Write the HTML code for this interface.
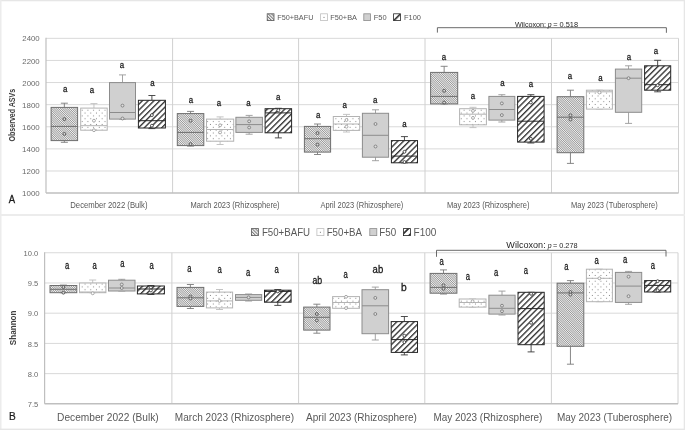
<!DOCTYPE html><html><head><meta charset="utf-8"><style>
html,body{margin:0;padding:0;background:#fff;width:685px;height:430px;overflow:hidden}
svg{display:block;will-change:transform}
text{font-family:"Liberation Sans",sans-serif}
</style></head><body>
<svg width="685" height="430" viewBox="0 0 685 430">
<defs>
<pattern id="pBAFU" patternUnits="userSpaceOnUse" width="1.556" height="4" patternTransform="rotate(-45)"><rect width="1.556" height="4" fill="#f2f2f2"/><rect width="0.68" height="4" fill="#8a8a8a"/></pattern>
<pattern id="pBA" patternUnits="userSpaceOnUse" width="5.7" height="5.7" x="1" y="0.5"><rect width="5.7" height="5.7" fill="#fff"/><rect x="0.9" y="0.9" width="1" height="1" fill="#8c8c8c"/><rect x="3.75" y="3.75" width="1" height="1" fill="#8c8c8c"/></pattern>
<pattern id="pF100" patternUnits="userSpaceOnUse" x="-1.0" width="4.1" height="4.1" patternTransform="rotate(45)"><rect width="4.1" height="4.1" fill="#fff"/><rect width="1.38" height="4.1" fill="#383838"/></pattern>
<pattern id="pF100LA" patternUnits="userSpaceOnUse" x="7.2" width="7.5" height="4" patternTransform="rotate(45)"><rect width="7.5" height="4" fill="#fff"/><rect width="1.6" height="4" fill="#333"/></pattern>
<pattern id="pF100LB" patternUnits="userSpaceOnUse" x="4.4" width="5.3" height="4" patternTransform="rotate(45)"><rect width="5.3" height="4" fill="#fff"/><rect width="1.8" height="4" fill="#333"/></pattern>
<pattern id="pBAFUL" patternUnits="userSpaceOnUse" width="2.3" height="4" patternTransform="rotate(-45)"><rect width="2.3" height="4" fill="#f6f6f6"/><rect width="1.0" height="4" fill="#7a7a7a"/></pattern>
</defs>
<rect x="0" y="0" width="685" height="430" fill="#fff"/>
<rect x="0" y="0" width="685" height="1.3" fill="#e6e6e6"/>
<rect x="0" y="0" width="1.5" height="430" fill="#ececec"/>
<rect x="683.7" y="0" width="1.3" height="430" fill="#e6e6e6"/>
<rect x="0" y="428.6" width="685" height="1.4" fill="#e6e6e6"/>
<rect x="0" y="214" width="685" height="2" fill="#ececec"/>
<line x1="46" y1="170.99" x2="678.5" y2="170.99" stroke="#d9d9d9" stroke-width="1"/>
<line x1="46" y1="148.88" x2="678.5" y2="148.88" stroke="#d9d9d9" stroke-width="1"/>
<line x1="46" y1="126.77" x2="678.5" y2="126.77" stroke="#d9d9d9" stroke-width="1"/>
<line x1="46" y1="104.66" x2="678.5" y2="104.66" stroke="#d9d9d9" stroke-width="1"/>
<line x1="46" y1="82.55" x2="678.5" y2="82.55" stroke="#d9d9d9" stroke-width="1"/>
<line x1="46" y1="60.44" x2="678.5" y2="60.44" stroke="#d9d9d9" stroke-width="1"/>
<line x1="46" y1="38.33" x2="678.5" y2="38.33" stroke="#d9d9d9" stroke-width="1"/>
<line x1="172.6" y1="38.33" x2="172.6" y2="193.1" stroke="#d0d0d0" stroke-width="1"/>
<line x1="298.6" y1="38.33" x2="298.6" y2="193.1" stroke="#d0d0d0" stroke-width="1"/>
<line x1="425" y1="38.33" x2="425" y2="193.1" stroke="#d0d0d0" stroke-width="1"/>
<line x1="551.5" y1="38.33" x2="551.5" y2="193.1" stroke="#d0d0d0" stroke-width="1"/>
<line x1="678.5" y1="38.33" x2="678.5" y2="193.1" stroke="#d0d0d0" stroke-width="1"/>
<line x1="46" y1="37.83" x2="46" y2="193.1" stroke="#bfbfbf" stroke-width="1.2"/>
<line x1="46" y1="193.1" x2="678.5" y2="193.1" stroke="#bfbfbf" stroke-width="1.5"/>
<line x1="64.35" y1="103.2" x2="64.35" y2="107.4" stroke="#7a7a7a" stroke-width="0.9"/>
<line x1="60.85" y1="103.2" x2="67.85" y2="103.2" stroke="#7a7a7a" stroke-width="0.9"/>
<line x1="64.35" y1="140.6" x2="64.35" y2="142.3" stroke="#7a7a7a" stroke-width="0.9"/>
<line x1="60.85" y1="142.3" x2="67.85" y2="142.3" stroke="#7a7a7a" stroke-width="0.9"/>
<rect x="51.1" y="107.4" width="26.5" height="33.2" fill="url(#pBAFU)" stroke="#6e6e6e" stroke-width="1.0"/>
<line x1="51.1" y1="126.4" x2="77.6" y2="126.4" stroke="#6e6e6e" stroke-width="1"/>
<circle cx="64.35" cy="119.1" r="1.45" fill="#d8d8d8" stroke="#4a4a4a" stroke-width="0.85"/>
<circle cx="64.35" cy="133.9" r="1.45" fill="#d8d8d8" stroke="#4a4a4a" stroke-width="0.85"/>
<text transform="translate(62.94,91.95) scale(0.8000,1)" font-size="9.85" fill="#1a1a1a" stroke="#1a1a1a" stroke-width="0.3">a</text>
<line x1="93.95" y1="103.6" x2="93.95" y2="108.1" stroke="#bdbdbd" stroke-width="0.9"/>
<line x1="90.45" y1="103.6" x2="97.45" y2="103.6" stroke="#bdbdbd" stroke-width="0.9"/>
<line x1="93.95" y1="130.2" x2="93.95" y2="130.2" stroke="#bdbdbd" stroke-width="0.9"/>
<line x1="90.45" y1="130.2" x2="97.45" y2="130.2" stroke="#bdbdbd" stroke-width="0.9"/>
<rect x="80.7" y="108.1" width="26.5" height="22.1" fill="url(#pBA)" stroke="#b3b3b3" stroke-width="1.0"/>
<line x1="80.7" y1="125.7" x2="107.2" y2="125.7" stroke="#b3b3b3" stroke-width="1"/>
<circle cx="93.95" cy="120.7" r="1.45" fill="#fff" stroke="#999" stroke-width="0.85"/>
<circle cx="93.95" cy="130.2" r="1.45" fill="#fff" stroke="#999" stroke-width="0.85"/>
<text transform="translate(89.84,93.05) scale(0.8000,1)" font-size="9.85" fill="#1a1a1a" stroke="#1a1a1a" stroke-width="0.3">a</text>
<line x1="122.5" y1="74.9" x2="122.5" y2="82.6" stroke="#9a9a9a" stroke-width="0.9"/>
<line x1="119" y1="74.9" x2="126" y2="74.9" stroke="#9a9a9a" stroke-width="0.9"/>
<line x1="122.5" y1="119.1" x2="122.5" y2="119.1" stroke="#9a9a9a" stroke-width="0.9"/>
<line x1="119" y1="119.1" x2="126" y2="119.1" stroke="#9a9a9a" stroke-width="0.9"/>
<rect x="109.5" y="82.6" width="26" height="36.5" fill="#d0d0d0" stroke="#8c8c8c" stroke-width="1.0"/>
<line x1="109.5" y1="112.5" x2="135.5" y2="112.5" stroke="#8c8c8c" stroke-width="1"/>
<circle cx="122.5" cy="105.6" r="1.45" fill="#e0e0e0" stroke="#777" stroke-width="0.85"/>
<circle cx="122.5" cy="118.5" r="1.45" fill="#e0e0e0" stroke="#777" stroke-width="0.85"/>
<text transform="translate(119.74,67.65) scale(0.8000,1)" font-size="9.85" fill="#1a1a1a" stroke="#1a1a1a" stroke-width="0.3">a</text>
<line x1="151.9" y1="95.5" x2="151.9" y2="100.3" stroke="#3a3a3a" stroke-width="0.9"/>
<line x1="148.4" y1="95.5" x2="155.4" y2="95.5" stroke="#3a3a3a" stroke-width="0.9"/>
<line x1="151.9" y1="128" x2="151.9" y2="128.6" stroke="#3a3a3a" stroke-width="0.9"/>
<line x1="148.4" y1="128.6" x2="155.4" y2="128.6" stroke="#3a3a3a" stroke-width="0.9"/>
<rect x="138.4" y="100.3" width="27" height="27.7" fill="url(#pF100)" stroke="#262626" stroke-width="1.0"/>
<line x1="138.4" y1="120.7" x2="165.4" y2="120.7" stroke="#262626" stroke-width="1"/>
<circle cx="151.9" cy="115.1" r="1.45" fill="#fff" stroke="#333" stroke-width="0.85"/>
<circle cx="151.9" cy="125.7" r="1.45" fill="#fff" stroke="#333" stroke-width="0.85"/>
<text transform="translate(150.24,86.35) scale(0.8000,1)" font-size="9.85" fill="#1a1a1a" stroke="#1a1a1a" stroke-width="0.3">a</text>
<line x1="190.55" y1="111.4" x2="190.55" y2="113.6" stroke="#7a7a7a" stroke-width="0.9"/>
<line x1="187.05" y1="111.4" x2="194.05" y2="111.4" stroke="#7a7a7a" stroke-width="0.9"/>
<line x1="190.55" y1="145.6" x2="190.55" y2="146.1" stroke="#7a7a7a" stroke-width="0.9"/>
<line x1="187.05" y1="146.1" x2="194.05" y2="146.1" stroke="#7a7a7a" stroke-width="0.9"/>
<rect x="177.3" y="113.6" width="26.5" height="32" fill="url(#pBAFU)" stroke="#6e6e6e" stroke-width="1.0"/>
<line x1="177.3" y1="132.4" x2="203.8" y2="132.4" stroke="#6e6e6e" stroke-width="1"/>
<circle cx="190.55" cy="120.7" r="1.45" fill="#d8d8d8" stroke="#4a4a4a" stroke-width="0.85"/>
<circle cx="190.55" cy="144.1" r="1.45" fill="#d8d8d8" stroke="#4a4a4a" stroke-width="0.85"/>
<text transform="translate(188.64,102.55) scale(0.8000,1)" font-size="9.85" fill="#1a1a1a" stroke="#1a1a1a" stroke-width="0.3">a</text>
<line x1="220.1" y1="116.9" x2="220.1" y2="119.1" stroke="#bdbdbd" stroke-width="0.9"/>
<line x1="216.6" y1="116.9" x2="223.6" y2="116.9" stroke="#bdbdbd" stroke-width="0.9"/>
<line x1="220.1" y1="141.2" x2="220.1" y2="144.5" stroke="#bdbdbd" stroke-width="0.9"/>
<line x1="216.6" y1="144.5" x2="223.6" y2="144.5" stroke="#bdbdbd" stroke-width="0.9"/>
<rect x="206.5" y="119.1" width="27.2" height="22.1" fill="url(#pBA)" stroke="#b3b3b3" stroke-width="1.0"/>
<line x1="206.5" y1="129.5" x2="233.7" y2="129.5" stroke="#b3b3b3" stroke-width="1"/>
<circle cx="220.1" cy="125.3" r="1.45" fill="#fff" stroke="#999" stroke-width="0.85"/>
<circle cx="220.1" cy="132.4" r="1.45" fill="#fff" stroke="#999" stroke-width="0.85"/>
<text transform="translate(216.74,105.65) scale(0.8000,1)" font-size="9.85" fill="#1a1a1a" stroke="#1a1a1a" stroke-width="0.3">a</text>
<line x1="249.15" y1="115.4" x2="249.15" y2="117.3" stroke="#9a9a9a" stroke-width="0.9"/>
<line x1="245.65" y1="115.4" x2="252.65" y2="115.4" stroke="#9a9a9a" stroke-width="0.9"/>
<line x1="249.15" y1="132.4" x2="249.15" y2="134.2" stroke="#9a9a9a" stroke-width="0.9"/>
<line x1="245.65" y1="134.2" x2="252.65" y2="134.2" stroke="#9a9a9a" stroke-width="0.9"/>
<rect x="235.9" y="117.3" width="26.5" height="15.1" fill="#d0d0d0" stroke="#8c8c8c" stroke-width="1.0"/>
<line x1="235.9" y1="124.6" x2="262.4" y2="124.6" stroke="#8c8c8c" stroke-width="1"/>
<circle cx="249.15" cy="121.3" r="1.45" fill="#e0e0e0" stroke="#777" stroke-width="0.85"/>
<circle cx="249.15" cy="127.5" r="1.45" fill="#e0e0e0" stroke="#777" stroke-width="0.85"/>
<text transform="translate(246.14,105.65) scale(0.8000,1)" font-size="9.85" fill="#1a1a1a" stroke="#1a1a1a" stroke-width="0.3">a</text>
<line x1="278.35" y1="108.3" x2="278.35" y2="108.7" stroke="#3a3a3a" stroke-width="0.9"/>
<line x1="274.85" y1="108.3" x2="281.85" y2="108.3" stroke="#3a3a3a" stroke-width="0.9"/>
<line x1="278.35" y1="132.8" x2="278.35" y2="137.9" stroke="#3a3a3a" stroke-width="0.9"/>
<line x1="274.85" y1="137.9" x2="281.85" y2="137.9" stroke="#3a3a3a" stroke-width="0.9"/>
<rect x="265.1" y="108.7" width="26.5" height="24.1" fill="url(#pF100)" stroke="#262626" stroke-width="1.0"/>
<line x1="265.1" y1="112.9" x2="291.6" y2="112.9" stroke="#262626" stroke-width="1"/>
<circle cx="278.35" cy="110.3" r="1.45" fill="#fff" stroke="#333" stroke-width="0.85"/>
<text transform="translate(275.94,100.35) scale(0.8000,1)" font-size="9.85" fill="#1a1a1a" stroke="#1a1a1a" stroke-width="0.3">a</text>
<line x1="317.5" y1="124" x2="317.5" y2="126.4" stroke="#7a7a7a" stroke-width="0.9"/>
<line x1="314" y1="124" x2="321" y2="124" stroke="#7a7a7a" stroke-width="0.9"/>
<line x1="317.5" y1="152.1" x2="317.5" y2="154.5" stroke="#7a7a7a" stroke-width="0.9"/>
<line x1="314" y1="154.5" x2="321" y2="154.5" stroke="#7a7a7a" stroke-width="0.9"/>
<rect x="304.4" y="126.4" width="26.2" height="25.7" fill="url(#pBAFU)" stroke="#6e6e6e" stroke-width="1.0"/>
<line x1="304.4" y1="138.7" x2="330.6" y2="138.7" stroke="#6e6e6e" stroke-width="1"/>
<circle cx="317.5" cy="133.1" r="1.45" fill="#d8d8d8" stroke="#4a4a4a" stroke-width="0.85"/>
<circle cx="317.5" cy="144.6" r="1.45" fill="#d8d8d8" stroke="#4a4a4a" stroke-width="0.85"/>
<text transform="translate(315.94,117.85) scale(0.8000,1)" font-size="9.85" fill="#1a1a1a" stroke="#1a1a1a" stroke-width="0.3">a</text>
<line x1="346.5" y1="114.4" x2="346.5" y2="116.5" stroke="#bdbdbd" stroke-width="0.9"/>
<line x1="343" y1="114.4" x2="350" y2="114.4" stroke="#bdbdbd" stroke-width="0.9"/>
<line x1="346.5" y1="130.4" x2="346.5" y2="132" stroke="#bdbdbd" stroke-width="0.9"/>
<line x1="343" y1="132" x2="350" y2="132" stroke="#bdbdbd" stroke-width="0.9"/>
<rect x="333.3" y="116.5" width="26.4" height="13.9" fill="url(#pBA)" stroke="#b3b3b3" stroke-width="1.0"/>
<line x1="333.3" y1="124" x2="359.7" y2="124" stroke="#b3b3b3" stroke-width="1"/>
<circle cx="346.5" cy="120" r="1.45" fill="#fff" stroke="#999" stroke-width="0.85"/>
<circle cx="346.5" cy="126.7" r="1.45" fill="#fff" stroke="#999" stroke-width="0.85"/>
<text transform="translate(342.44,107.95) scale(0.8000,1)" font-size="9.85" fill="#1a1a1a" stroke="#1a1a1a" stroke-width="0.3">a</text>
<line x1="375.5" y1="109.8" x2="375.5" y2="113.3" stroke="#9a9a9a" stroke-width="0.9"/>
<line x1="372" y1="109.8" x2="379" y2="109.8" stroke="#9a9a9a" stroke-width="0.9"/>
<line x1="375.5" y1="157.2" x2="375.5" y2="160.7" stroke="#9a9a9a" stroke-width="0.9"/>
<line x1="372" y1="160.7" x2="379" y2="160.7" stroke="#9a9a9a" stroke-width="0.9"/>
<rect x="362.4" y="113.3" width="26.2" height="43.9" fill="#d0d0d0" stroke="#8c8c8c" stroke-width="1.0"/>
<line x1="362.4" y1="135.3" x2="388.6" y2="135.3" stroke="#8c8c8c" stroke-width="1"/>
<circle cx="375.5" cy="124" r="1.45" fill="#e0e0e0" stroke="#777" stroke-width="0.85"/>
<circle cx="375.5" cy="146.5" r="1.45" fill="#e0e0e0" stroke="#777" stroke-width="0.85"/>
<text transform="translate(372.94,103.15) scale(0.8000,1)" font-size="9.85" fill="#1a1a1a" stroke="#1a1a1a" stroke-width="0.3">a</text>
<line x1="404.45" y1="136.6" x2="404.45" y2="140.6" stroke="#3a3a3a" stroke-width="0.9"/>
<line x1="400.95" y1="136.6" x2="407.95" y2="136.6" stroke="#3a3a3a" stroke-width="0.9"/>
<line x1="404.45" y1="162.8" x2="404.45" y2="162.8" stroke="#3a3a3a" stroke-width="0.9"/>
<line x1="400.95" y1="162.8" x2="407.95" y2="162.8" stroke="#3a3a3a" stroke-width="0.9"/>
<rect x="391.4" y="140.6" width="26.1" height="22.2" fill="url(#pF100)" stroke="#262626" stroke-width="1.0"/>
<line x1="391.4" y1="156.1" x2="417.5" y2="156.1" stroke="#262626" stroke-width="1"/>
<circle cx="404.45" cy="151.8" r="1.45" fill="#fff" stroke="#333" stroke-width="0.85"/>
<circle cx="404.45" cy="162" r="1.45" fill="#fff" stroke="#333" stroke-width="0.85"/>
<text transform="translate(402.34,126.65) scale(0.8000,1)" font-size="9.85" fill="#1a1a1a" stroke="#1a1a1a" stroke-width="0.3">a</text>
<line x1="444.15" y1="66.3" x2="444.15" y2="72.4" stroke="#7a7a7a" stroke-width="0.9"/>
<line x1="440.65" y1="66.3" x2="447.65" y2="66.3" stroke="#7a7a7a" stroke-width="0.9"/>
<line x1="444.15" y1="103.9" x2="444.15" y2="103.9" stroke="#7a7a7a" stroke-width="0.9"/>
<line x1="440.65" y1="103.9" x2="447.65" y2="103.9" stroke="#7a7a7a" stroke-width="0.9"/>
<rect x="430.6" y="72.4" width="27.1" height="31.5" fill="url(#pBAFU)" stroke="#6e6e6e" stroke-width="1.0"/>
<line x1="430.6" y1="96.4" x2="457.7" y2="96.4" stroke="#6e6e6e" stroke-width="1"/>
<circle cx="444.15" cy="90.8" r="1.45" fill="#d8d8d8" stroke="#4a4a4a" stroke-width="0.85"/>
<circle cx="444.15" cy="102.5" r="1.45" fill="#d8d8d8" stroke="#4a4a4a" stroke-width="0.85"/>
<text transform="translate(441.64,59.95) scale(0.8000,1)" font-size="9.85" fill="#1a1a1a" stroke="#1a1a1a" stroke-width="0.3">a</text>
<line x1="473" y1="107.3" x2="473" y2="108.7" stroke="#bdbdbd" stroke-width="0.9"/>
<line x1="469.5" y1="107.3" x2="476.5" y2="107.3" stroke="#bdbdbd" stroke-width="0.9"/>
<line x1="473" y1="124.8" x2="473" y2="127.6" stroke="#bdbdbd" stroke-width="0.9"/>
<line x1="469.5" y1="127.6" x2="476.5" y2="127.6" stroke="#bdbdbd" stroke-width="0.9"/>
<rect x="459.6" y="108.7" width="26.8" height="16.1" fill="url(#pBA)" stroke="#b3b3b3" stroke-width="1.0"/>
<line x1="459.6" y1="114.2" x2="486.4" y2="114.2" stroke="#b3b3b3" stroke-width="1"/>
<circle cx="473" cy="110.9" r="1.45" fill="#fff" stroke="#999" stroke-width="0.85"/>
<circle cx="473" cy="117.9" r="1.45" fill="#fff" stroke="#999" stroke-width="0.85"/>
<text transform="translate(470.64,99.05) scale(0.8000,1)" font-size="9.85" fill="#1a1a1a" stroke="#1a1a1a" stroke-width="0.3">a</text>
<line x1="501.85" y1="94.7" x2="501.85" y2="96.4" stroke="#9a9a9a" stroke-width="0.9"/>
<line x1="498.35" y1="94.7" x2="505.35" y2="94.7" stroke="#9a9a9a" stroke-width="0.9"/>
<line x1="501.85" y1="120.1" x2="501.85" y2="122" stroke="#9a9a9a" stroke-width="0.9"/>
<line x1="498.35" y1="122" x2="505.35" y2="122" stroke="#9a9a9a" stroke-width="0.9"/>
<rect x="488.9" y="96.4" width="25.9" height="23.7" fill="#d0d0d0" stroke="#8c8c8c" stroke-width="1.0"/>
<line x1="488.9" y1="109.5" x2="514.8" y2="109.5" stroke="#8c8c8c" stroke-width="1"/>
<circle cx="501.85" cy="103.4" r="1.45" fill="#e0e0e0" stroke="#777" stroke-width="0.85"/>
<circle cx="501.85" cy="115.1" r="1.45" fill="#e0e0e0" stroke="#777" stroke-width="0.85"/>
<text transform="translate(500.24,85.65) scale(0.8000,1)" font-size="9.85" fill="#1a1a1a" stroke="#1a1a1a" stroke-width="0.3">a</text>
<line x1="530.85" y1="94.7" x2="530.85" y2="96.4" stroke="#3a3a3a" stroke-width="0.9"/>
<line x1="527.35" y1="94.7" x2="534.35" y2="94.7" stroke="#3a3a3a" stroke-width="0.9"/>
<line x1="530.85" y1="142.1" x2="530.85" y2="143" stroke="#3a3a3a" stroke-width="0.9"/>
<line x1="527.35" y1="143" x2="534.35" y2="143" stroke="#3a3a3a" stroke-width="0.9"/>
<rect x="517.6" y="96.4" width="26.5" height="45.7" fill="url(#pF100)" stroke="#262626" stroke-width="1.0"/>
<line x1="517.6" y1="121.2" x2="544.1" y2="121.2" stroke="#262626" stroke-width="1"/>
<circle cx="530.85" cy="102.5" r="1.45" fill="#fff" stroke="#333" stroke-width="0.85"/>
<circle cx="530.85" cy="138.8" r="1.45" fill="#fff" stroke="#333" stroke-width="0.85"/>
<text transform="translate(528.64,87.05) scale(0.8000,1)" font-size="9.85" fill="#1a1a1a" stroke="#1a1a1a" stroke-width="0.3">a</text>
<line x1="570.45" y1="90.2" x2="570.45" y2="96.7" stroke="#7a7a7a" stroke-width="0.9"/>
<line x1="566.95" y1="90.2" x2="573.95" y2="90.2" stroke="#7a7a7a" stroke-width="0.9"/>
<line x1="570.45" y1="152.7" x2="570.45" y2="163.4" stroke="#7a7a7a" stroke-width="0.9"/>
<line x1="566.95" y1="163.4" x2="573.95" y2="163.4" stroke="#7a7a7a" stroke-width="0.9"/>
<rect x="557.1" y="96.7" width="26.7" height="56" fill="url(#pBAFU)" stroke="#6e6e6e" stroke-width="1.0"/>
<line x1="557.1" y1="117.2" x2="583.8" y2="117.2" stroke="#6e6e6e" stroke-width="1"/>
<circle cx="570.45" cy="115.3" r="1.45" fill="#d8d8d8" stroke="#4a4a4a" stroke-width="0.85"/>
<circle cx="570.45" cy="119.5" r="1.45" fill="#d8d8d8" stroke="#4a4a4a" stroke-width="0.85"/>
<text transform="translate(567.74,78.85) scale(0.8000,1)" font-size="9.85" fill="#1a1a1a" stroke="#1a1a1a" stroke-width="0.3">a</text>
<line x1="599.4" y1="90.2" x2="599.4" y2="90.2" stroke="#bdbdbd" stroke-width="0.9"/>
<line x1="595.9" y1="90.2" x2="602.9" y2="90.2" stroke="#bdbdbd" stroke-width="0.9"/>
<line x1="599.4" y1="109.1" x2="599.4" y2="109.1" stroke="#bdbdbd" stroke-width="0.9"/>
<line x1="595.9" y1="109.1" x2="602.9" y2="109.1" stroke="#bdbdbd" stroke-width="0.9"/>
<rect x="586.4" y="90.2" width="26" height="18.9" fill="url(#pBA)" stroke="#b3b3b3" stroke-width="1.0"/>
<line x1="586.4" y1="91.8" x2="612.4" y2="91.8" stroke="#b3b3b3" stroke-width="1"/>
<circle cx="599.4" cy="92.5" r="1.45" fill="#fff" stroke="#999" stroke-width="0.85"/>
<text transform="translate(598.24,80.85) scale(0.8000,1)" font-size="9.85" fill="#1a1a1a" stroke="#1a1a1a" stroke-width="0.3">a</text>
<line x1="628.55" y1="65.8" x2="628.55" y2="69.1" stroke="#9a9a9a" stroke-width="0.9"/>
<line x1="625.05" y1="65.8" x2="632.05" y2="65.8" stroke="#9a9a9a" stroke-width="0.9"/>
<line x1="628.55" y1="112.3" x2="628.55" y2="123.4" stroke="#9a9a9a" stroke-width="0.9"/>
<line x1="625.05" y1="123.4" x2="632.05" y2="123.4" stroke="#9a9a9a" stroke-width="0.9"/>
<rect x="615.4" y="69.1" width="26.3" height="43.2" fill="#d0d0d0" stroke="#8c8c8c" stroke-width="1.0"/>
<line x1="615.4" y1="78.2" x2="641.7" y2="78.2" stroke="#8c8c8c" stroke-width="1"/>
<circle cx="628.55" cy="78.2" r="1.45" fill="#e0e0e0" stroke="#777" stroke-width="0.85"/>
<text transform="translate(626.74,59.65) scale(0.8000,1)" font-size="9.85" fill="#1a1a1a" stroke="#1a1a1a" stroke-width="0.3">a</text>
<line x1="657.65" y1="60.3" x2="657.65" y2="65.8" stroke="#3a3a3a" stroke-width="0.9"/>
<line x1="654.15" y1="60.3" x2="661.15" y2="60.3" stroke="#3a3a3a" stroke-width="0.9"/>
<line x1="657.65" y1="90.2" x2="657.65" y2="91.8" stroke="#3a3a3a" stroke-width="0.9"/>
<line x1="654.15" y1="91.8" x2="661.15" y2="91.8" stroke="#3a3a3a" stroke-width="0.9"/>
<rect x="644.6" y="65.8" width="26.1" height="24.4" fill="url(#pF100)" stroke="#262626" stroke-width="1.0"/>
<line x1="644.6" y1="84.7" x2="670.7" y2="84.7" stroke="#262626" stroke-width="1"/>
<circle cx="657.65" cy="85.3" r="1.45" fill="#fff" stroke="#333" stroke-width="0.85"/>
<text transform="translate(653.64,53.95) scale(0.8000,1)" font-size="9.85" fill="#1a1a1a" stroke="#1a1a1a" stroke-width="0.3">a</text>
<line x1="44.6" y1="373.63" x2="678" y2="373.63" stroke="#d9d9d9" stroke-width="1"/>
<line x1="44.6" y1="343.41" x2="678" y2="343.41" stroke="#d9d9d9" stroke-width="1"/>
<line x1="44.6" y1="313.19" x2="678" y2="313.19" stroke="#d9d9d9" stroke-width="1"/>
<line x1="44.6" y1="282.97" x2="678" y2="282.97" stroke="#d9d9d9" stroke-width="1"/>
<line x1="44.6" y1="252.75" x2="678" y2="252.75" stroke="#d9d9d9" stroke-width="1"/>
<line x1="171.9" y1="252.75" x2="171.9" y2="403.85" stroke="#d0d0d0" stroke-width="1"/>
<line x1="298.6" y1="252.75" x2="298.6" y2="403.85" stroke="#d0d0d0" stroke-width="1"/>
<line x1="424.8" y1="252.75" x2="424.8" y2="403.85" stroke="#d0d0d0" stroke-width="1"/>
<line x1="551.4" y1="252.75" x2="551.4" y2="403.85" stroke="#d0d0d0" stroke-width="1"/>
<line x1="678" y1="252.75" x2="678" y2="403.85" stroke="#d0d0d0" stroke-width="1"/>
<line x1="44.6" y1="252.25" x2="44.6" y2="403.85" stroke="#bfbfbf" stroke-width="1.2"/>
<line x1="44.6" y1="403.85" x2="678" y2="403.85" stroke="#bfbfbf" stroke-width="1.5"/>
<line x1="63.4" y1="285.1" x2="63.4" y2="285.5" stroke="#7a7a7a" stroke-width="0.9"/>
<line x1="59.9" y1="285.1" x2="66.9" y2="285.1" stroke="#7a7a7a" stroke-width="0.9"/>
<line x1="63.4" y1="292.7" x2="63.4" y2="292.7" stroke="#7a7a7a" stroke-width="0.9"/>
<line x1="59.9" y1="292.7" x2="66.9" y2="292.7" stroke="#7a7a7a" stroke-width="0.9"/>
<rect x="50" y="285.5" width="26.8" height="7.2" fill="url(#pBAFU)" stroke="#6e6e6e" stroke-width="1.0"/>
<line x1="50" y1="289.3" x2="76.8" y2="289.3" stroke="#6e6e6e" stroke-width="1"/>
<circle cx="63.4" cy="287" r="1.45" fill="#d8d8d8" stroke="#4a4a4a" stroke-width="0.85"/>
<circle cx="63.4" cy="292.7" r="1.45" fill="#d8d8d8" stroke="#4a4a4a" stroke-width="0.85"/>
<text transform="translate(64.91,268.50) scale(0.7100,1)" font-size="10.78" fill="#1a1a1a" stroke="#1a1a1a" stroke-width="0.3">a</text>
<line x1="92.7" y1="280" x2="92.7" y2="283" stroke="#bdbdbd" stroke-width="0.9"/>
<line x1="89.2" y1="280" x2="96.2" y2="280" stroke="#bdbdbd" stroke-width="0.9"/>
<line x1="92.7" y1="292.7" x2="92.7" y2="292.7" stroke="#bdbdbd" stroke-width="0.9"/>
<line x1="89.2" y1="292.7" x2="96.2" y2="292.7" stroke="#bdbdbd" stroke-width="0.9"/>
<rect x="79.5" y="283" width="26.4" height="9.7" fill="url(#pBA)" stroke="#b3b3b3" stroke-width="1.0"/>
<line x1="79.5" y1="292" x2="105.9" y2="292" stroke="#b3b3b3" stroke-width="1"/>
<circle cx="92.7" cy="293.3" r="1.45" fill="#fff" stroke="#999" stroke-width="0.85"/>
<text transform="translate(92.61,269.40) scale(0.7100,1)" font-size="10.78" fill="#1a1a1a" stroke="#1a1a1a" stroke-width="0.3">a</text>
<line x1="121.75" y1="279.3" x2="121.75" y2="280.2" stroke="#9a9a9a" stroke-width="0.9"/>
<line x1="118.25" y1="279.3" x2="125.25" y2="279.3" stroke="#9a9a9a" stroke-width="0.9"/>
<line x1="121.75" y1="291" x2="121.75" y2="291" stroke="#9a9a9a" stroke-width="0.9"/>
<line x1="118.25" y1="291" x2="125.25" y2="291" stroke="#9a9a9a" stroke-width="0.9"/>
<rect x="108.5" y="280.2" width="26.5" height="10.8" fill="#d0d0d0" stroke="#8c8c8c" stroke-width="1.0"/>
<line x1="108.5" y1="288" x2="135" y2="288" stroke="#8c8c8c" stroke-width="1"/>
<circle cx="121.75" cy="284.5" r="1.45" fill="#e0e0e0" stroke="#777" stroke-width="0.85"/>
<circle cx="121.75" cy="288" r="1.45" fill="#e0e0e0" stroke="#777" stroke-width="0.85"/>
<text transform="translate(120.31,267.40) scale(0.7100,1)" font-size="10.78" fill="#1a1a1a" stroke="#1a1a1a" stroke-width="0.3">a</text>
<line x1="150.9" y1="285.5" x2="150.9" y2="286" stroke="#3a3a3a" stroke-width="0.9"/>
<line x1="147.4" y1="285.5" x2="154.4" y2="285.5" stroke="#3a3a3a" stroke-width="0.9"/>
<line x1="150.9" y1="293.9" x2="150.9" y2="294.5" stroke="#3a3a3a" stroke-width="0.9"/>
<line x1="147.4" y1="294.5" x2="154.4" y2="294.5" stroke="#3a3a3a" stroke-width="0.9"/>
<rect x="137.4" y="286" width="27" height="7.9" fill="url(#pF100)" stroke="#262626" stroke-width="1.0"/>
<line x1="137.4" y1="289" x2="164.4" y2="289" stroke="#262626" stroke-width="1"/>
<circle cx="150.9" cy="287.5" r="1.45" fill="#fff" stroke="#333" stroke-width="0.85"/>
<circle cx="150.9" cy="290.5" r="1.45" fill="#fff" stroke="#333" stroke-width="0.85"/>
<text transform="translate(149.61,268.90) scale(0.7100,1)" font-size="10.78" fill="#1a1a1a" stroke="#1a1a1a" stroke-width="0.3">a</text>
<line x1="190.4" y1="284.5" x2="190.4" y2="287.4" stroke="#7a7a7a" stroke-width="0.9"/>
<line x1="186.9" y1="284.5" x2="193.9" y2="284.5" stroke="#7a7a7a" stroke-width="0.9"/>
<line x1="190.4" y1="306.4" x2="190.4" y2="308.5" stroke="#7a7a7a" stroke-width="0.9"/>
<line x1="186.9" y1="308.5" x2="193.9" y2="308.5" stroke="#7a7a7a" stroke-width="0.9"/>
<rect x="177" y="287.4" width="26.8" height="19" fill="url(#pBAFU)" stroke="#6e6e6e" stroke-width="1.0"/>
<line x1="177" y1="297.8" x2="203.8" y2="297.8" stroke="#6e6e6e" stroke-width="1"/>
<circle cx="190.4" cy="296.5" r="1.45" fill="#d8d8d8" stroke="#4a4a4a" stroke-width="0.85"/>
<circle cx="190.4" cy="298.5" r="1.45" fill="#d8d8d8" stroke="#4a4a4a" stroke-width="0.85"/>
<text transform="translate(187.21,271.90) scale(0.7100,1)" font-size="10.78" fill="#1a1a1a" stroke="#1a1a1a" stroke-width="0.3">a</text>
<line x1="219.5" y1="289.5" x2="219.5" y2="292.1" stroke="#bdbdbd" stroke-width="0.9"/>
<line x1="216" y1="289.5" x2="223" y2="289.5" stroke="#bdbdbd" stroke-width="0.9"/>
<line x1="219.5" y1="307.9" x2="219.5" y2="309.5" stroke="#bdbdbd" stroke-width="0.9"/>
<line x1="216" y1="309.5" x2="223" y2="309.5" stroke="#bdbdbd" stroke-width="0.9"/>
<rect x="206.4" y="292.1" width="26.2" height="15.8" fill="url(#pBA)" stroke="#b3b3b3" stroke-width="1.0"/>
<line x1="206.4" y1="300.9" x2="232.6" y2="300.9" stroke="#b3b3b3" stroke-width="1"/>
<circle cx="219.5" cy="300.9" r="1.45" fill="#fff" stroke="#999" stroke-width="0.85"/>
<text transform="translate(217.41,272.80) scale(0.7100,1)" font-size="10.78" fill="#1a1a1a" stroke="#1a1a1a" stroke-width="0.3">a</text>
<line x1="248.6" y1="294" x2="248.6" y2="294.6" stroke="#9a9a9a" stroke-width="0.9"/>
<line x1="245.1" y1="294" x2="252.1" y2="294" stroke="#9a9a9a" stroke-width="0.9"/>
<line x1="248.6" y1="300.3" x2="248.6" y2="301" stroke="#9a9a9a" stroke-width="0.9"/>
<line x1="245.1" y1="301" x2="252.1" y2="301" stroke="#9a9a9a" stroke-width="0.9"/>
<rect x="235.5" y="294.6" width="26.2" height="5.7" fill="#d0d0d0" stroke="#8c8c8c" stroke-width="1.0"/>
<line x1="235.5" y1="297.4" x2="261.7" y2="297.4" stroke="#8c8c8c" stroke-width="1"/>
<circle cx="248.6" cy="297.4" r="1.45" fill="#e0e0e0" stroke="#777" stroke-width="0.85"/>
<text transform="translate(246.11,275.70) scale(0.7100,1)" font-size="10.78" fill="#1a1a1a" stroke="#1a1a1a" stroke-width="0.3">a</text>
<line x1="277.8" y1="289.5" x2="277.8" y2="290.2" stroke="#3a3a3a" stroke-width="0.9"/>
<line x1="274.3" y1="289.5" x2="281.3" y2="289.5" stroke="#3a3a3a" stroke-width="0.9"/>
<line x1="277.8" y1="302.2" x2="277.8" y2="305.4" stroke="#3a3a3a" stroke-width="0.9"/>
<line x1="274.3" y1="305.4" x2="281.3" y2="305.4" stroke="#3a3a3a" stroke-width="0.9"/>
<rect x="264.5" y="290.2" width="26.6" height="12" fill="url(#pF100)" stroke="#262626" stroke-width="1.0"/>
<line x1="264.5" y1="291.4" x2="291.1" y2="291.4" stroke="#262626" stroke-width="1"/>
<circle cx="277.8" cy="291.4" r="1.45" fill="#fff" stroke="#333" stroke-width="0.85"/>
<text transform="translate(274.51,273.40) scale(0.7100,1)" font-size="10.78" fill="#1a1a1a" stroke="#1a1a1a" stroke-width="0.3">a</text>
<line x1="316.85" y1="304.2" x2="316.85" y2="307.1" stroke="#7a7a7a" stroke-width="0.9"/>
<line x1="313.35" y1="304.2" x2="320.35" y2="304.2" stroke="#7a7a7a" stroke-width="0.9"/>
<line x1="316.85" y1="330.1" x2="316.85" y2="333.2" stroke="#7a7a7a" stroke-width="0.9"/>
<line x1="313.35" y1="333.2" x2="320.35" y2="333.2" stroke="#7a7a7a" stroke-width="0.9"/>
<rect x="303.7" y="307.1" width="26.3" height="23" fill="url(#pBAFU)" stroke="#6e6e6e" stroke-width="1.0"/>
<line x1="303.7" y1="317.3" x2="330" y2="317.3" stroke="#6e6e6e" stroke-width="1"/>
<circle cx="316.85" cy="314" r="1.45" fill="#d8d8d8" stroke="#4a4a4a" stroke-width="0.85"/>
<circle cx="316.85" cy="320.4" r="1.45" fill="#d8d8d8" stroke="#4a4a4a" stroke-width="0.85"/>
<text transform="translate(312.43,283.80) scale(0.8122,1)" font-size="10.78" fill="#1a1a1a" stroke="#1a1a1a" stroke-width="0.3">ab</text>
<line x1="346.05" y1="296.6" x2="346.05" y2="296.6" stroke="#bdbdbd" stroke-width="0.9"/>
<line x1="342.55" y1="296.6" x2="349.55" y2="296.6" stroke="#bdbdbd" stroke-width="0.9"/>
<line x1="346.05" y1="308.3" x2="346.05" y2="308.3" stroke="#bdbdbd" stroke-width="0.9"/>
<line x1="342.55" y1="308.3" x2="349.55" y2="308.3" stroke="#bdbdbd" stroke-width="0.9"/>
<rect x="332.6" y="296.6" width="26.9" height="11.7" fill="url(#pBA)" stroke="#b3b3b3" stroke-width="1.0"/>
<line x1="332.6" y1="302.5" x2="359.5" y2="302.5" stroke="#b3b3b3" stroke-width="1"/>
<circle cx="346.05" cy="296.8" r="1.45" fill="#fff" stroke="#999" stroke-width="0.85"/>
<circle cx="346.05" cy="308.1" r="1.45" fill="#fff" stroke="#999" stroke-width="0.85"/>
<text transform="translate(343.61,277.70) scale(0.7100,1)" font-size="10.78" fill="#1a1a1a" stroke="#1a1a1a" stroke-width="0.3">a</text>
<line x1="375.3" y1="287.1" x2="375.3" y2="289.7" stroke="#9a9a9a" stroke-width="0.9"/>
<line x1="371.8" y1="287.1" x2="378.8" y2="287.1" stroke="#9a9a9a" stroke-width="0.9"/>
<line x1="375.3" y1="333.7" x2="375.3" y2="340" stroke="#9a9a9a" stroke-width="0.9"/>
<line x1="371.8" y1="340" x2="378.8" y2="340" stroke="#9a9a9a" stroke-width="0.9"/>
<rect x="362" y="289.7" width="26.6" height="44" fill="#d0d0d0" stroke="#8c8c8c" stroke-width="1.0"/>
<line x1="362" y1="305.8" x2="388.6" y2="305.8" stroke="#8c8c8c" stroke-width="1"/>
<circle cx="375.3" cy="297.9" r="1.45" fill="#e0e0e0" stroke="#777" stroke-width="0.85"/>
<circle cx="375.3" cy="314" r="1.45" fill="#e0e0e0" stroke="#777" stroke-width="0.85"/>
<text transform="translate(372.59,272.90) scale(0.8844,1)" font-size="10.78" fill="#1a1a1a" stroke="#1a1a1a" stroke-width="0.3">ab</text>
<line x1="404.35" y1="316.5" x2="404.35" y2="321.6" stroke="#3a3a3a" stroke-width="0.9"/>
<line x1="400.85" y1="316.5" x2="407.85" y2="316.5" stroke="#3a3a3a" stroke-width="0.9"/>
<line x1="404.35" y1="352.4" x2="404.35" y2="354.9" stroke="#3a3a3a" stroke-width="0.9"/>
<line x1="400.85" y1="354.9" x2="407.85" y2="354.9" stroke="#3a3a3a" stroke-width="0.9"/>
<rect x="391.2" y="321.6" width="26.3" height="30.8" fill="url(#pF100)" stroke="#262626" stroke-width="1.0"/>
<line x1="391.2" y1="339.6" x2="417.5" y2="339.6" stroke="#262626" stroke-width="1"/>
<circle cx="404.35" cy="335.7" r="1.45" fill="#fff" stroke="#333" stroke-width="0.85"/>
<circle cx="404.35" cy="342.1" r="1.45" fill="#fff" stroke="#333" stroke-width="0.85"/>
<text transform="translate(401.04,290.80) scale(0.9488,1)" font-size="10.78" fill="#1a1a1a" stroke="#1a1a1a" stroke-width="0.3">b</text>
<line x1="443.5" y1="269.9" x2="443.5" y2="273.4" stroke="#7a7a7a" stroke-width="0.9"/>
<line x1="440" y1="269.9" x2="447" y2="269.9" stroke="#7a7a7a" stroke-width="0.9"/>
<line x1="443.5" y1="293.2" x2="443.5" y2="294" stroke="#7a7a7a" stroke-width="0.9"/>
<line x1="440" y1="294" x2="447" y2="294" stroke="#7a7a7a" stroke-width="0.9"/>
<rect x="430.1" y="273.4" width="26.8" height="19.8" fill="url(#pBAFU)" stroke="#6e6e6e" stroke-width="1.0"/>
<line x1="430.1" y1="287.4" x2="456.9" y2="287.4" stroke="#6e6e6e" stroke-width="1"/>
<circle cx="443.5" cy="285.3" r="1.45" fill="#d8d8d8" stroke="#4a4a4a" stroke-width="0.85"/>
<circle cx="443.5" cy="288.8" r="1.45" fill="#d8d8d8" stroke="#4a4a4a" stroke-width="0.85"/>
<text transform="translate(439.51,264.90) scale(0.7100,1)" font-size="10.78" fill="#1a1a1a" stroke="#1a1a1a" stroke-width="0.3">a</text>
<line x1="472.6" y1="299" x2="472.6" y2="299" stroke="#bdbdbd" stroke-width="0.9"/>
<line x1="469.1" y1="299" x2="476.1" y2="299" stroke="#bdbdbd" stroke-width="0.9"/>
<line x1="472.6" y1="307.1" x2="472.6" y2="307.1" stroke="#bdbdbd" stroke-width="0.9"/>
<line x1="469.1" y1="307.1" x2="476.1" y2="307.1" stroke="#bdbdbd" stroke-width="0.9"/>
<rect x="459.2" y="299" width="26.8" height="8.1" fill="url(#pBA)" stroke="#b3b3b3" stroke-width="1.0"/>
<line x1="459.2" y1="302.5" x2="486" y2="302.5" stroke="#b3b3b3" stroke-width="1"/>
<circle cx="472.6" cy="301.3" r="1.45" fill="#fff" stroke="#999" stroke-width="0.85"/>
<text transform="translate(465.71,279.50) scale(0.7100,1)" font-size="10.78" fill="#1a1a1a" stroke="#1a1a1a" stroke-width="0.3">a</text>
<line x1="502" y1="291.1" x2="502" y2="295.2" stroke="#9a9a9a" stroke-width="0.9"/>
<line x1="498.5" y1="291.1" x2="505.5" y2="291.1" stroke="#9a9a9a" stroke-width="0.9"/>
<line x1="502" y1="314.1" x2="502" y2="315" stroke="#9a9a9a" stroke-width="0.9"/>
<line x1="498.5" y1="315" x2="505.5" y2="315" stroke="#9a9a9a" stroke-width="0.9"/>
<rect x="488.9" y="295.2" width="26.2" height="18.9" fill="#d0d0d0" stroke="#8c8c8c" stroke-width="1.0"/>
<line x1="488.9" y1="308.3" x2="515.1" y2="308.3" stroke="#8c8c8c" stroke-width="1"/>
<circle cx="502" cy="305.7" r="1.45" fill="#e0e0e0" stroke="#777" stroke-width="0.85"/>
<circle cx="502" cy="311.2" r="1.45" fill="#e0e0e0" stroke="#777" stroke-width="0.85"/>
<text transform="translate(493.91,276.30) scale(0.7100,1)" font-size="10.78" fill="#1a1a1a" stroke="#1a1a1a" stroke-width="0.3">a</text>
<line x1="531.1" y1="292.3" x2="531.1" y2="292.3" stroke="#3a3a3a" stroke-width="0.9"/>
<line x1="527.6" y1="292.3" x2="534.6" y2="292.3" stroke="#3a3a3a" stroke-width="0.9"/>
<line x1="531.1" y1="344.7" x2="531.1" y2="351.9" stroke="#3a3a3a" stroke-width="0.9"/>
<line x1="527.6" y1="351.9" x2="534.6" y2="351.9" stroke="#3a3a3a" stroke-width="0.9"/>
<rect x="518" y="292.3" width="26.2" height="52.4" fill="url(#pF100)" stroke="#262626" stroke-width="1.0"/>
<line x1="518" y1="308.6" x2="544.2" y2="308.6" stroke="#262626" stroke-width="1"/>
<circle cx="531.1" cy="293.8" r="1.45" fill="#fff" stroke="#333" stroke-width="0.85"/>
<circle cx="531.1" cy="322.8" r="1.45" fill="#fff" stroke="#333" stroke-width="0.85"/>
<text transform="translate(523.81,274.30) scale(0.7100,1)" font-size="10.78" fill="#1a1a1a" stroke="#1a1a1a" stroke-width="0.3">a</text>
<line x1="570.45" y1="280.6" x2="570.45" y2="283.2" stroke="#7a7a7a" stroke-width="0.9"/>
<line x1="566.95" y1="280.6" x2="573.95" y2="280.6" stroke="#7a7a7a" stroke-width="0.9"/>
<line x1="570.45" y1="346.3" x2="570.45" y2="364.2" stroke="#7a7a7a" stroke-width="0.9"/>
<line x1="566.95" y1="364.2" x2="573.95" y2="364.2" stroke="#7a7a7a" stroke-width="0.9"/>
<rect x="557.1" y="283.2" width="26.7" height="63.1" fill="url(#pBAFU)" stroke="#6e6e6e" stroke-width="1.0"/>
<line x1="557.1" y1="292.9" x2="583.8" y2="292.9" stroke="#6e6e6e" stroke-width="1"/>
<circle cx="570.45" cy="292" r="1.45" fill="#d8d8d8" stroke="#4a4a4a" stroke-width="0.85"/>
<circle cx="570.45" cy="294.6" r="1.45" fill="#d8d8d8" stroke="#4a4a4a" stroke-width="0.85"/>
<text transform="translate(564.21,270.30) scale(0.7100,1)" font-size="10.78" fill="#1a1a1a" stroke="#1a1a1a" stroke-width="0.3">a</text>
<line x1="599.4" y1="269.2" x2="599.4" y2="269.2" stroke="#bdbdbd" stroke-width="0.9"/>
<line x1="595.9" y1="269.2" x2="602.9" y2="269.2" stroke="#bdbdbd" stroke-width="0.9"/>
<line x1="599.4" y1="301.7" x2="599.4" y2="301.7" stroke="#bdbdbd" stroke-width="0.9"/>
<line x1="595.9" y1="301.7" x2="602.9" y2="301.7" stroke="#bdbdbd" stroke-width="0.9"/>
<rect x="586.4" y="269.2" width="26" height="32.5" fill="url(#pBA)" stroke="#b3b3b3" stroke-width="1.0"/>
<line x1="586.4" y1="278.3" x2="612.4" y2="278.3" stroke="#b3b3b3" stroke-width="1"/>
<circle cx="599.4" cy="278.3" r="1.45" fill="#fff" stroke="#999" stroke-width="0.85"/>
<text transform="translate(594.51,264.20) scale(0.7100,1)" font-size="10.78" fill="#1a1a1a" stroke="#1a1a1a" stroke-width="0.3">a</text>
<line x1="628.55" y1="271.4" x2="628.55" y2="272.4" stroke="#9a9a9a" stroke-width="0.9"/>
<line x1="625.05" y1="271.4" x2="632.05" y2="271.4" stroke="#9a9a9a" stroke-width="0.9"/>
<line x1="628.55" y1="302.4" x2="628.55" y2="304.3" stroke="#9a9a9a" stroke-width="0.9"/>
<line x1="625.05" y1="304.3" x2="632.05" y2="304.3" stroke="#9a9a9a" stroke-width="0.9"/>
<rect x="615.4" y="272.4" width="26.3" height="30" fill="#d0d0d0" stroke="#8c8c8c" stroke-width="1.0"/>
<line x1="615.4" y1="286.1" x2="641.7" y2="286.1" stroke="#8c8c8c" stroke-width="1"/>
<circle cx="628.55" cy="276.7" r="1.45" fill="#e0e0e0" stroke="#777" stroke-width="0.85"/>
<circle cx="628.55" cy="296.2" r="1.45" fill="#e0e0e0" stroke="#777" stroke-width="0.85"/>
<text transform="translate(623.11,263.30) scale(0.7100,1)" font-size="10.78" fill="#1a1a1a" stroke="#1a1a1a" stroke-width="0.3">a</text>
<line x1="657.65" y1="280.6" x2="657.65" y2="280.6" stroke="#3a3a3a" stroke-width="0.9"/>
<line x1="654.15" y1="280.6" x2="661.15" y2="280.6" stroke="#3a3a3a" stroke-width="0.9"/>
<line x1="657.65" y1="292" x2="657.65" y2="292" stroke="#3a3a3a" stroke-width="0.9"/>
<line x1="654.15" y1="292" x2="661.15" y2="292" stroke="#3a3a3a" stroke-width="0.9"/>
<rect x="644.6" y="280.6" width="26.1" height="11.4" fill="url(#pF100)" stroke="#262626" stroke-width="1.0"/>
<line x1="644.6" y1="285.4" x2="670.7" y2="285.4" stroke="#262626" stroke-width="1"/>
<circle cx="657.65" cy="281.2" r="1.45" fill="#fff" stroke="#333" stroke-width="0.85"/>
<circle cx="657.65" cy="290.3" r="1.45" fill="#fff" stroke="#333" stroke-width="0.85"/>
<text transform="translate(650.81,268.90) scale(0.7100,1)" font-size="10.78" fill="#1a1a1a" stroke="#1a1a1a" stroke-width="0.3">a</text>
<rect x="267.2" y="13.8" width="6.8" height="6.8" fill="url(#pBAFUL)" stroke="#595959" stroke-width="0.8"/>
<text transform="translate(277.20,20.00) scale(0.9463,1)" font-size="7.70" fill="#595959">F50+BAFU</text>
<rect x="320.6" y="13.8" width="6.8" height="6.8" fill="#fff" stroke="#bfbfbf" stroke-width="0.8"/>
<rect x="323.5" y="16.9" width="1" height="1" fill="#777"/>
<text transform="translate(330.20,20.00) scale(0.9561,1)" font-size="7.70" fill="#595959">F50+BA</text>
<rect x="363.8" y="13.8" width="6.8" height="6.8" fill="#d0d0d0" stroke="#8c8c8c" stroke-width="0.8"/>
<text transform="translate(373.79,20.00) scale(0.9723,1)" font-size="7.70" fill="#595959">F50</text>
<rect x="393.6" y="13.8" width="6.8" height="6.8" fill="url(#pF100LA)" stroke="#262626" stroke-width="0.8"/>
<text transform="translate(403.99,20.00) scale(0.9684,1)" font-size="7.70" fill="#595959">F100</text>
<rect x="251.5" y="228.6" width="7" height="7" fill="url(#pBAFUL)" stroke="#595959" stroke-width="0.8"/>
<text transform="translate(261.90,235.70) scale(0.9398,1)" font-size="10.32" fill="#595959">F50+BAFU</text>
<rect x="316.9" y="228.6" width="7" height="7" fill="#fff" stroke="#bfbfbf" stroke-width="0.8"/>
<rect x="319.9" y="231.8" width="1" height="1" fill="#777"/>
<text transform="translate(326.70,235.70) scale(0.9398,1)" font-size="10.32" fill="#595959">F50+BA</text>
<rect x="369.8" y="228.6" width="7" height="7" fill="#d0d0d0" stroke="#8c8c8c" stroke-width="0.8"/>
<text transform="translate(379.30,235.70) scale(0.9496,1)" font-size="10.32" fill="#595959">F50</text>
<rect x="403.5" y="228.6" width="7" height="7" fill="url(#pF100LB)" stroke="#262626" stroke-width="0.8"/>
<text transform="translate(413.58,235.70) scale(0.9698,1)" font-size="10.32" fill="#595959">F100</text>
<path d="M437.4 32.6 V27.7 H666.4 V32.8" fill="none" stroke="#595959" stroke-width="0.9"/>
<text transform="translate(514.97,27.30) scale(0.9901,1)" font-size="7.27" fill="#262626">Wilcoxon:</text>
<text transform="translate(547.67,27.30) scale(1.0155,1)" font-size="6.82" font-style="italic" fill="#262626">p</text>
<text transform="translate(553.14,27.30) scale(1.0219,1)" font-size="7.27" fill="#262626">= 0.518</text>
<path d="M436.5 256.8 V250.3 H666 V256.5" fill="none" stroke="#595959" stroke-width="0.9"/>
<text transform="translate(506.36,247.60) scale(0.9919,1)" font-size="9.16" fill="#262626">Wilcoxon:</text>
<text transform="translate(547.77,247.60) scale(0.9620,1)" font-size="7.20" font-style="italic" fill="#262626">p</text>
<text transform="translate(552.94,247.60) scale(1.0093,1)" font-size="7.27" fill="#262626">= 0.278</text>
<text transform="translate(22.10,196.20) scale(0.9814,1)" font-size="8.07" fill="#6a6a6a">1000</text>
<text transform="translate(22.10,174.09) scale(0.9814,1)" font-size="8.07" fill="#6a6a6a">1200</text>
<text transform="translate(22.10,151.98) scale(0.9814,1)" font-size="8.07" fill="#6a6a6a">1400</text>
<text transform="translate(22.10,129.87) scale(0.9814,1)" font-size="8.07" fill="#6a6a6a">1600</text>
<text transform="translate(22.10,107.76) scale(0.9814,1)" font-size="8.07" fill="#6a6a6a">1800</text>
<text transform="translate(22.31,85.65) scale(0.9695,1)" font-size="8.07" fill="#6a6a6a">2000</text>
<text transform="translate(22.31,63.54) scale(0.9695,1)" font-size="8.07" fill="#6a6a6a">2200</text>
<text transform="translate(22.31,41.43) scale(0.9695,1)" font-size="8.07" fill="#6a6a6a">2400</text>
<text transform="translate(27.77,407.05) scale(0.9854,1)" font-size="7.70" fill="#6a6a6a">7.5</text>
<text transform="translate(27.74,376.83) scale(0.9854,1)" font-size="7.70" fill="#6a6a6a">8.0</text>
<text transform="translate(27.77,346.61) scale(0.9854,1)" font-size="7.70" fill="#6a6a6a">8.5</text>
<text transform="translate(27.74,316.39) scale(0.9854,1)" font-size="7.70" fill="#6a6a6a">9.0</text>
<text transform="translate(27.77,286.17) scale(0.9854,1)" font-size="7.70" fill="#6a6a6a">9.5</text>
<text transform="translate(23.52,255.95) scale(0.9854,1)" font-size="7.70" fill="#6a6a6a">10.0</text>
<text transform="translate(70.27,207.60) scale(0.9328,1)" font-size="8.28" fill="#595959">December 2022 (Bulk)</text>
<text transform="translate(190.48,207.60) scale(0.9103,1)" font-size="8.28" fill="#595959">March 2023 (Rhizosphere)</text>
<text transform="translate(320.39,207.60) scale(0.9066,1)" font-size="8.28" fill="#595959">April 2023 (Rhizosphere)</text>
<text transform="translate(446.98,207.60) scale(0.9104,1)" font-size="8.28" fill="#595959">May 2023 (Rhizosphere)</text>
<text transform="translate(570.98,207.60) scale(0.9102,1)" font-size="8.28" fill="#595959">May 2023 (Tuberosphere)</text>
<text transform="translate(57.06,421.00) scale(0.9596,1)" font-size="10.61" fill="#595959">December 2022 (Bulk)</text>
<text transform="translate(174.87,421.00) scale(0.9501,1)" font-size="10.61" fill="#595959">March 2023 (Rhizosphere)</text>
<text transform="translate(306.08,421.00) scale(0.9461,1)" font-size="10.61" fill="#595959">April 2023 (Rhizosphere)</text>
<text transform="translate(433.38,421.00) scale(0.9394,1)" font-size="10.61" fill="#595959">May 2023 (Rhizosphere)</text>
<text transform="translate(556.88,421.00) scale(0.9443,1)" font-size="10.61" fill="#595959">May 2023 (Tuberosphere)</text>
<text transform="translate(15.00,141.49) rotate(-90) scale(0.8375,1)" font-size="8.43" font-weight="bold" fill="#404040">Observed ASVs</text>
<text transform="translate(15.60,345.13) rotate(-90) scale(0.9285,1)" font-size="8.72" font-weight="bold" fill="#404040">Shannon</text>
<text transform="translate(8.68,202.80) scale(0.8716,1)" font-size="10.90" fill="#1a1a1a" stroke="#1a1a1a" stroke-width="0.3">A</text>
<text transform="translate(9.07,419.60) scale(0.9307,1)" font-size="10.90" fill="#1a1a1a" stroke="#1a1a1a" stroke-width="0.2">B</text>
</svg></body></html>
